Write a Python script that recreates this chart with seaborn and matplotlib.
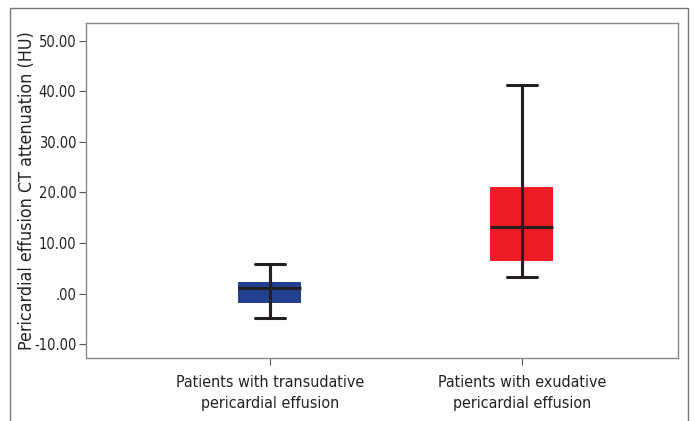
import numpy as np
import pandas as pd
import matplotlib
matplotlib.use("Agg")
import matplotlib.pyplot as plt
from matplotlib.patches import Rectangle
import seaborn as sns

# five-number summaries (min, Q1, median, Q3, max)
groups = ["Patients with transudative\npericardial effusion",
          "Patients with exudative\npericardial effusion"]
transudative = [-4.9, -1.9, 1.0, 2.2, 5.8]
exudative = [3.2, 6.5, 13.1, 21.0, 41.2]
box_colors = ["#233f8f", "#ed1c24"]
ytick_values = [-10, 0, 10, 20, 30, 40, 50]
ytick_labels = ["-10.00", ".00", "10.00", "20.00", "30.00", "40.00", "50.00"]

rows = []
for g, vals in zip(groups, [transudative, exudative]):
    for v in vals:
        rows.append([g, v])
df = pd.DataFrame(rows, columns=["group", "value"])

sns.set_style("white")
plt.rcParams["font.family"] = ["Liberation Sans Narrow", "DejaVu Sans"]
plt.rcParams["font.stretch"] = "condensed"

fig = plt.figure(figsize=(6.94, 4.21), dpi=100)
ax = fig.add_axes([86 / 694, 1 - 358 / 421, (678 - 86) / 694, (358 - 23) / 421])

line_col = "#231f20"
sns.boxplot(data=df, x="group", y="value", hue="group", palette=box_colors,
            order=groups, width=0.25, whis=(0, 100), linecolor=line_col,
            linewidth=2.2, capwidths=0.12, showfliers=False, legend=False,
            saturation=1, ax=ax)

# boxes have no outline, whisker line runs through the box
for patch, c in zip(ax.patches, box_colors):
    patch.set_facecolor(c)
    patch.set_edgecolor(c)
    patch.set_linewidth(0)
    patch.set_zorder(2)
lows = [transudative[0], exudative[0]]
highs = [transudative[-1], exudative[-1]]
ax.vlines([0, 1], lows, highs, color=line_col, lw=2.2, zorder=3)
for ln in ax.lines:
    ln.set_zorder(4)

ax.set_xlim(-0.73, 1.62)
ax.set_ylim(-12.77, 53.56)
ax.set_yticks(ytick_values)
ax.set_yticklabels(ytick_labels, fontsize=10.5)
ax.set_xticks([0, 1])
ax.set_xticklabels(groups, fontsize=11.5, linespacing=1.55)
ax.tick_params(axis="both", direction="out", length=5, width=0.8,
               color="#555555", bottom=True, left=True, labelcolor="#222222")
ax.tick_params(axis="x", pad=7)
ax.tick_params(axis="y", pad=2)
ax.set_xlabel("")
ax.set_ylabel("Pericardial effusion CT attenuation (HU)", fontsize=12.8,
              color="#222222")
ax.yaxis.set_label_coords(-0.084, 0.5)

for sp in ax.spines.values():
    sp.set_visible(True)
    sp.set_color("#888888")
    sp.set_linewidth(1.0)

# outer frame around the figure (bottom edge cut off)
fig.patches.append(Rectangle((10 / 694, -0.05), (688 - 10) / 694, 1.05 - 8 / 421,
                             transform=fig.transFigure, fill=False,
                             edgecolor="#777777", lw=1.0))

fig.savefig("out.png", dpi=100)
